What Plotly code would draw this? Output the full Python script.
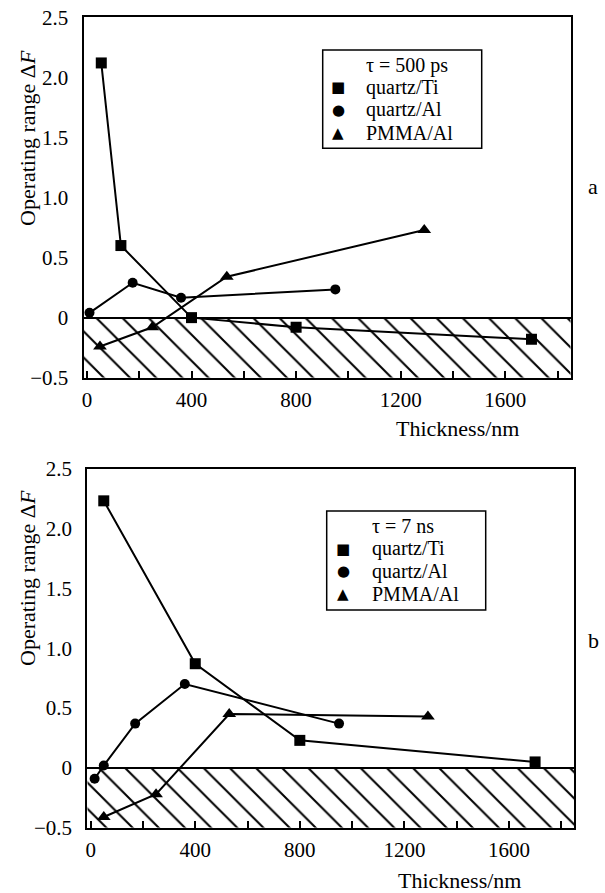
import plotly.graph_objects as go

W, H = 605, 893
FONT = '"Liberation Serif", "Times New Roman", Times, serif'
SYMFONT = '"DejaVu Sans"'

# ---------------- data ----------------
series_names = ["quartz/Ti", "quartz/Al", "PMMA/Al"]
series_symbols = ["square", "circle", "triangle-up"]
legend_glyphs = ["■", "●", "▲"]

a_title = "τ = 500 ps"
a_ti_x = [55, 130, 400, 800, 1700]
a_ti_y = [2.12, 0.60, 0.00, -0.08, -0.18]
a_al_x = [10, 175, 360, 950]
a_al_y = [0.04, 0.29, 0.165, 0.235]
a_pm_x = [50, 250, 535, 1290]
a_pm_y = [-0.24, -0.08, 0.34, 0.73]

b_title = "τ = 7 ns"
b_ti_x = [50, 400, 800, 1700]
b_ti_y = [2.23, 0.87, 0.23, 0.05]
b_al_x = [15, 50, 170, 360, 950]
b_al_y = [-0.09, 0.02, 0.37, 0.70, 0.37]
b_pm_x = [50, 250, 530, 1290]
b_pm_y = [-0.41, -0.22, 0.45, 0.43]

x_tick_vals = [0, 400, 800, 1200, 1600]
y_tick_vals = [-0.5, 0, 0.5, 1.0, 1.5, 2.0, 2.5]
y_tick_text = ["\u22120.5", "0", "0.5", "1.0", "1.5", "2.0", "2.5"]
x_title = "Thickness/nm"
y_title = "Operating range \u0394<i>F</i>"
panel_letters = ["a", "b"]

X_RANGE = [-13, 1850]
Y_RANGE = [-0.5, 2.5]
HATCH_Y = [-0.5, 0.0]


def PX(x):
    return x / W


def PY(y):
    return 1 - y / H


panels = [
    dict(xa="x", ya="y", dom_x=(83.5, 570.7), dom_y=(17.3, 377.7),
         title=a_title,
         data=[(a_ti_x, a_ti_y), (a_al_x, a_al_y), (a_pm_x, a_pm_y)],
         leg_box=(322.7, 50.0, 481.7, 148.3), leg_sym_x=338, leg_txt_x=365,
         xt_y=428, xt_right=521, yt_x=27, yt_y=138, letter_xy=(593, 186)),
    dict(xa="x2", ya="y2", dom_x=(87.3, 574.3), dom_y=(468.5, 827.8),
         title=b_title,
         data=[(b_ti_x, b_ti_y), (b_al_x, b_al_y), (b_pm_x, b_pm_y)],
         leg_box=(326.7, 511.0, 485.7, 610.0), leg_sym_x=343, leg_txt_x=371,
         xt_y=880, xt_right=523, yt_x=27, yt_y=578, letter_xy=(593, 640)),
]

marker_sizes = [11, 10, 12]
leg_row_offsets = [15.0, 37.5, 60.0, 82.5]
glyph_sizes = [15, 15, 15]
TXT = 22
LEG_TXT = 20

fig = go.Figure()
annotations = []
shapes = []

for i, p in enumerate(panels):
    # hatched region below zero
    fig.add_trace(go.Scatter(
        x=[X_RANGE[0], X_RANGE[1], X_RANGE[1], X_RANGE[0], X_RANGE[0]],
        y=[HATCH_Y[0], HATCH_Y[0], HATCH_Y[1], HATCH_Y[1], HATCH_Y[0]],
        xaxis=p["xa"], yaxis=p["ya"], mode="lines", line=dict(width=0),
        fill="toself", fillcolor="rgba(0,0,0,0)",
        fillpattern=dict(shape="\\", fgcolor="black", bgcolor="rgba(0,0,0,0)",
                         size=18.5, solidity=0.11),
        hoverinfo="skip", showlegend=False))
    for k, (xs, ys) in enumerate(p["data"]):
        fig.add_trace(go.Scatter(
            x=xs, y=ys, xaxis=p["xa"], yaxis=p["ya"], mode="lines+markers",
            name=series_names[k],
            line=dict(color="black", width=2),
            marker=dict(symbol=series_symbols[k], size=marker_sizes[k], color="black"),
            showlegend=False, cliponaxis=False))

    # legend box
    x0, y0, x1, y1 = p["leg_box"]
    shapes.append(dict(type="rect", xref="paper", yref="paper",
                       x0=PX(x0), x1=PX(x1), y0=PY(y1), y1=PY(y0),
                       line=dict(color="black", width=1.5), fillcolor="white", layer="above"))
    rows = [p["title"]] + series_names
    for r, txt in enumerate(rows):
        yy = y0 + leg_row_offsets[r]
        annotations.append(dict(xref="paper", yref="paper", x=PX(p["leg_txt_x"]), y=PY(yy),
                                xanchor="left", yanchor="middle", text=txt, showarrow=False,
                                borderpad=0,
                                font=dict(family=FONT, size=LEG_TXT, color="black")))
        if r > 0:
            annotations.append(dict(xref="paper", yref="paper", x=PX(p["leg_sym_x"]), y=PY(yy),
                                    xanchor="center", yanchor="middle", text=legend_glyphs[r - 1],
                                    showarrow=False, borderpad=0,
                                    font=dict(family=SYMFONT, size=glyph_sizes[r - 1], color="black")))
    # axis titles
    annotations.append(dict(xref="paper", yref="paper", x=PX(p["xt_right"]), y=PY(p["xt_y"]),
                            xanchor="right", yanchor="middle", text=x_title, showarrow=False,
                            font=dict(family=FONT, size=TXT, color="black")))
    annotations.append(dict(xref="paper", yref="paper", x=PX(p["yt_x"]), y=PY(p["yt_y"]),
                            xanchor="center", yanchor="middle", text=y_title, showarrow=False,
                            textangle=-90, font=dict(family=FONT, size=TXT, color="black")))
    lx, ly = p["letter_xy"]
    annotations.append(dict(xref="paper", yref="paper", x=PX(lx), y=PY(ly),
                            xanchor="center", yanchor="middle", text=panel_letters[i], showarrow=False,
                            font=dict(family=FONT, size=TXT, color="black")))

axis_common = dict(showline=True, linecolor="black", linewidth=2, mirror=True,
                   showgrid=False, automargin=False,
                   tickfont=dict(family=FONT, size=21, color="black"))

layout_axes = {}
for i, p in enumerate(panels):
    sx = "" if i == 0 else str(i + 1)
    layout_axes["xaxis" + sx] = dict(
        axis_common, domain=[PX(p["dom_x"][0]), PX(p["dom_x"][1])],
        range=X_RANGE, anchor=p["ya"], tickmode="array", tickvals=x_tick_vals,
        ticks="inside", ticklen=7, tickwidth=1.5, tickcolor="black",
        minor=dict(ticks="inside", tick0=0, dtick=200, ticklen=7, tickwidth=1.5, tickcolor="black"),
        zeroline=False, ticklabelstandoff=2)
    layout_axes["yaxis" + sx] = dict(
        axis_common, domain=[PY(p["dom_y"][1]), PY(p["dom_y"][0])],
        range=Y_RANGE, anchor=p["xa"], tickmode="array", tickvals=y_tick_vals,
        ticktext=y_tick_text, ticks="", zeroline=True, zerolinecolor="black",
        zerolinewidth=2, ticklabelstandoff=9)

fig.update_layout(
    width=W, height=H, template="none",
    paper_bgcolor="white", plot_bgcolor="white",
    margin=dict(l=0, r=0, t=0, b=0, pad=0, autoexpand=False),
    showlegend=False, annotations=annotations, shapes=shapes,
    font=dict(family=FONT, color="black"),
    **layout_axes)

fig.write_html("out.html", config={"displayModeBar": False},
               post_script="document.body.style.margin='0';document.body.style.padding='0';")
